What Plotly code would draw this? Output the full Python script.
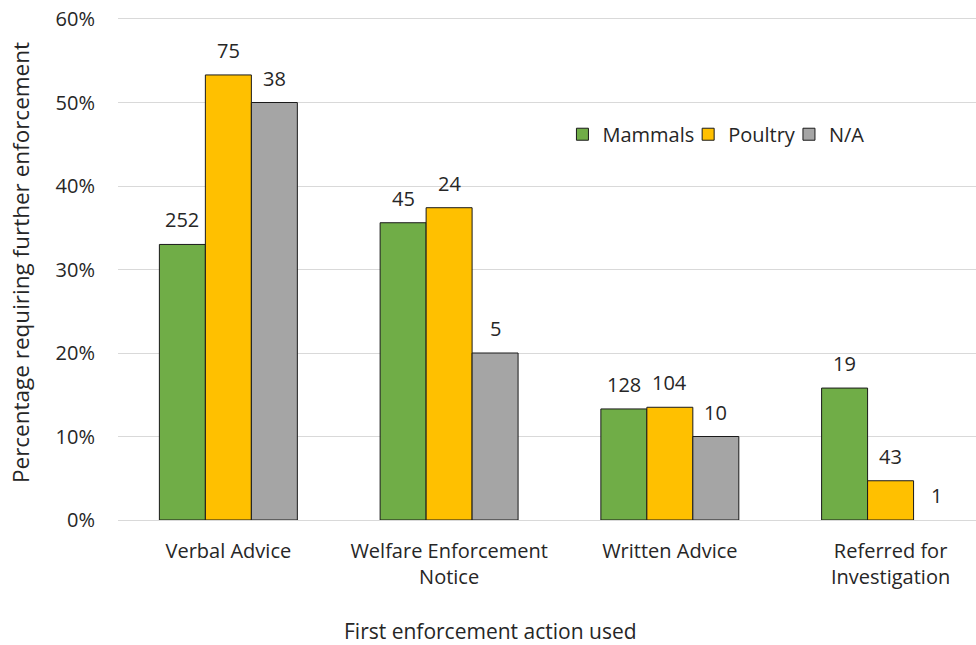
import plotly.graph_objects as go

categories = ["Verbal Advice", "Welfare Enforcement<br>Notice", "Written Advice", "Referred for<br>Investigation"]
series_names = ["Mammals", "Poultry", "N/A"]
mammals_pct = [33.0, 35.6, 13.3, 15.8]
poultry_pct = [53.3, 37.4, 13.5, 4.7]
na_pct = [50.0, 20.0, 10.0, 0.0]
mammals_n = [252, 45, 128, 19]
poultry_n = [75, 24, 104, 43]
na_n = [38, 5, 10, 1]
y_ticks = [0, 10, 20, 30, 40, 50, 60]
y_tick_labels = ["0%", "10%", "20%", "30%", "40%", "50%", "60%"]

colors = ["#70AD47", "#FFC000", "#A5A5A5"]
values = [mammals_pct, poultry_pct, na_pct]
counts = [mammals_n, poultry_n, na_n]
legend_ids = ["legend", "legend2", "legend3"]
legend_x = [0.518, 0.6645, 0.782]

FONT = "Open Sans"
TXT = "#262626"
GRID = "#d9d9d9"
bargap = 0.375
xs = list(range(len(categories)))

fig = go.Figure()
for name, vals, col, lid in zip(series_names, values, colors, legend_ids):
    fig.add_trace(go.Bar(
        x=xs, y=vals, name=name, legend=lid,
        marker=dict(color=col, line=dict(color="#1a1a1a",
                                         width=[1 if v > 0 else 0 for v in vals])),
    ))

w = (1 - bargap) / len(series_names)
for j, (vals, cnts) in enumerate(zip(values, counts)):
    for i, (v, c) in enumerate(zip(vals, cnts)):
        fig.add_annotation(
            x=xs[i] + (j - 1) * w, y=v, xref="x", yref="y",
            text=str(c), showarrow=False, yanchor="bottom", yshift=9,
            font=dict(family=FONT, size=20, color=TXT),
        )

fig.add_annotation(
    x=0.434, y=-0.222, xref="paper", yref="paper", text="First enforcement action used",
    showarrow=False, xanchor="center", yanchor="middle",
    font=dict(family=FONT, size=21, color=TXT),
)
fig.add_annotation(
    x=-0.113, y=0.513, xref="paper", yref="paper", text="Percentage requiring further enforcement",
    showarrow=False, xanchor="center", yanchor="middle", textangle=-90,
    font=dict(family=FONT, size=22.5, color=TXT),
)

legend_common = dict(orientation="h", y=0.77, xanchor="left", yanchor="middle",
                     font=dict(family=FONT, size=20, color=TXT),
                     itemwidth=30, bgcolor="rgba(0,0,0,0)")

fig.update_layout(
    width=976, height=645,
    margin=dict(l=117.5, r=0, t=18.7, b=124.5, autoexpand=False),
    paper_bgcolor="white", plot_bgcolor="white",
    barmode="group", bargap=bargap, bargroupgap=0,
    font=dict(family=FONT, size=20, color=TXT),
    showlegend=True,
    legend=dict(x=legend_x[0], **legend_common),
    legend2=dict(x=legend_x[1], **legend_common),
    legend3=dict(x=legend_x[2], **legend_common),
    xaxis=dict(range=[-0.5, 3.387], tickmode="array", tickvals=xs, ticktext=categories,
               showgrid=False, zeroline=False, showline=True, linecolor=GRID, linewidth=1,
               mirror=True, ticks="", automargin=False,
               ticklabelstandoff=13, tickfont=dict(family=FONT, size=20, color=TXT)),
    yaxis=dict(range=[0, 60], tickmode="array", tickvals=y_ticks, ticktext=y_tick_labels,
               showgrid=True, gridcolor=GRID, gridwidth=1, zeroline=False,
               showline=False, ticks="", ticklabelstandoff=22, ticklabeloverflow="allow",
               automargin=False, tickfont=dict(family=FONT, size=20, color=TXT)),
)

fig.write_html("out.html", config={"displayModeBar": False},
               post_script="document.body.style.margin='0';")
